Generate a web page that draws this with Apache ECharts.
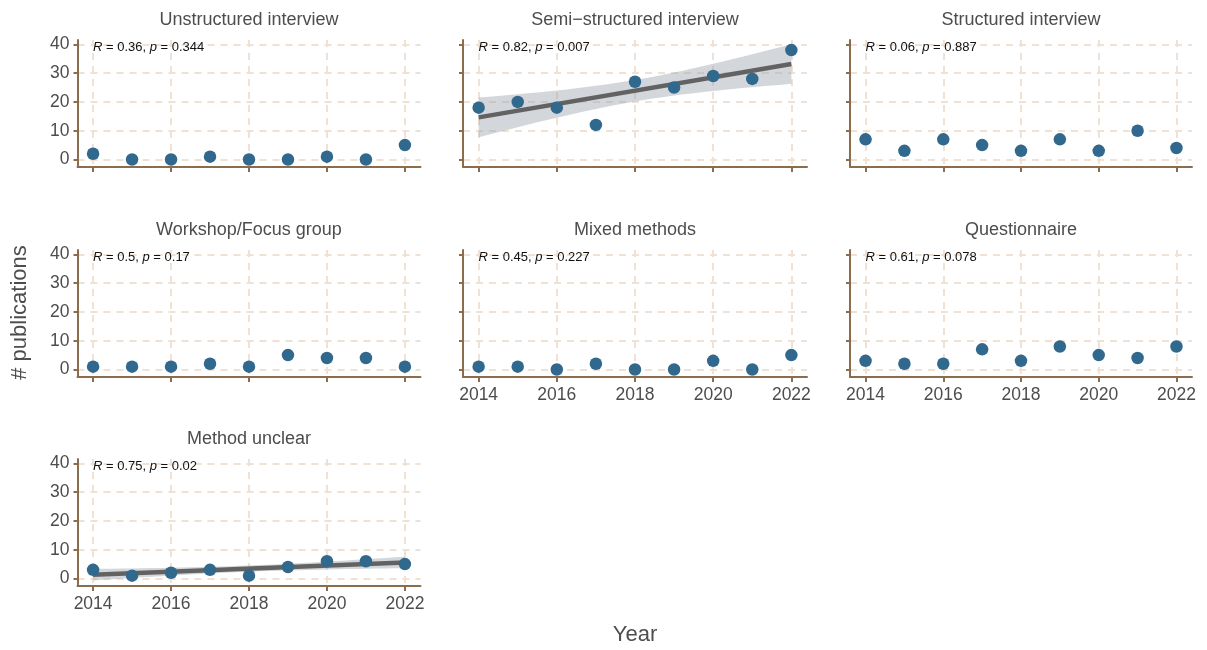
<!DOCTYPE html>
<html>
<head>
<meta charset="utf-8">
<script src="https://cdn.jsdelivr.net/npm/echarts@6/dist/echarts.min.js"></script>
<style>
html,body{margin:0;padding:0;background:#fff;}
#chart{width:1207px;height:650px;}
</style>
</head>
<body>
<div id="chart"></div>
<script>
// ---------- data ----------
const years = [2014, 2015, 2016, 2017, 2018, 2019, 2020, 2021, 2022];
const xTicks = [2014, 2016, 2018, 2020, 2022];
const yTicks = [0, 10, 20, 30, 40];
const panelTitles = [
  'Unstructured interview', 'Semi\u2212structured interview', 'Structured interview',
  'Workshop/Focus group', 'Mixed methods', 'Questionnaire', 'Method unclear'
];
const unstructured = [2, 0, 0, 1, 0, 0, 1, 0, 5];
const semiStructured = [18, 20, 18, 12, 27, 25, 29, 28, 38];
const structured = [7, 3, 7, 5, 3, 7, 3, 10, 4];
const workshop = [1, 1, 1, 2, 1, 5, 4, 4, 1];
const mixed = [1, 1, 0, 2, 0, 0, 3, 0, 5];
const questionnaire = [3, 2, 2, 7, 3, 8, 5, 4, 8];
const unclear = [3, 1, 2, 3, 1, 4, 6, 6, 5];
const corrR = ['0.36', '0.82', '0.06', '0.5', '0.45', '0.61', '0.75'];
const corrP = ['0.344', '0.007', '0.887', '0.17', '0.227', '0.078', '0.02'];
const showTrend = [false, true, false, false, false, false, true];
const tCrit = 2.365; // t(0.975, df = 7)

const seriesValues = [unstructured, semiStructured, structured, workshop, mixed, questionnaire, unclear];

// ---------- layout ----------
const colLeft = [77.5, 463, 850];
const colWidth = [343, 344, 342];
const rowTop = [40, 250, 459];
const panelH = 127;
const axisColor = '#8b6d4d';
const gridColor = '#efe2d4';
const textColor = '#4d4d4d';
const pointColor = '#31688e';
const font = '"Liberation Sans", Arial, Helvetica, sans-serif';

function linfit(xs, ys) {
  const n = xs.length;
  const mx = xs.reduce((a, b) => a + b, 0) / n;
  const my = ys.reduce((a, b) => a + b, 0) / n;
  let sxx = 0, sxy = 0;
  for (let i = 0; i < n; i++) { sxx += (xs[i] - mx) ** 2; sxy += (xs[i] - mx) * (ys[i] - my); }
  const b = sxy / sxx, a = my - b * mx;
  let ss = 0;
  for (let i = 0; i < n; i++) { ss += (ys[i] - (a + b * xs[i])) ** 2; }
  const s = Math.sqrt(ss / (n - 2));
  return { a, b, s, mx, sxx, n };
}

const grids = [], xAxes = [], yAxes = [], series = [], graphics = [];

panelTitles.forEach((title, i) => {
  const row = Math.floor(i / 3), col = i % 3;
  const left = colLeft[col], top = rowTop[row], w = colWidth[col];
  const showXLabels = (i === 4 || i === 5 || i === 6);
  const showYLabels = (col === 0);
  grids.push({ left: left, top: top, width: w, height: panelH });
  xAxes.push({
    type: 'value', gridIndex: i, min: 2013.6, max: 2022.4,
    axisLine: { show: true, onZero: false, lineStyle: { color: axisColor, width: 2 } },
    axisTick: { show: true, length: 5, customValues: xTicks, lineStyle: { color: axisColor, width: 2 } },
    axisLabel: { show: showXLabels, customValues: xTicks, formatter: v => String(v), color: textColor, fontSize: 17.5, fontFamily: font, margin: 9 },
    splitLine: { show: true, lineStyle: { type: [7, 6], color: gridColor, width: 2 } }
  });
  yAxes.push({
    type: 'value', gridIndex: i, min: -2.6, max: 41.5,
    axisLine: { show: true, onZero: false, lineStyle: { color: axisColor, width: 2 } },
    axisTick: { show: true, length: 4, customValues: yTicks, lineStyle: { color: axisColor, width: 2 } },
    axisLabel: { show: showYLabels, customValues: yTicks, formatter: v => String(v), color: textColor, fontSize: 17.5, fontFamily: font, margin: 8 },
    splitLine: { show: true, lineStyle: { type: [7, 6], color: gridColor, width: 2 } }
  });

  const vals = seriesValues[i];
  if (showTrend[i]) {
    const f = linfit(years, vals);
    const bandData = [];
    for (let k = 0; k <= 32; k++) {
      const x = 2014 + k * 0.25;
      const yhat = f.a + f.b * x;
      const se = f.s * Math.sqrt(1 / f.n + (x - f.mx) ** 2 / f.sxx);
      bandData.push([x, yhat - tCrit * se, yhat + tCrit * se]);
    }
    const fitLine = [[2014, f.a + f.b * 2014], [2022, f.a + f.b * 2022]];
    series.push({
      type: 'custom', xAxisIndex: i, yAxisIndex: i, silent: true, z: 1,
      data: [0],
      renderItem: function (params, api) {
        const upper = bandData.map(d => api.coord([d[0], d[2]]));
        const lower = bandData.slice().reverse().map(d => api.coord([d[0], d[1]]));
        return {
          type: 'polygon',
          shape: { points: upper.concat(lower) },
          style: { fill: 'rgba(150,160,170,0.42)' }
        };
      }
    });
    series.push({
      type: 'line', xAxisIndex: i, yAxisIndex: i, data: fitLine, symbol: 'none',
      lineStyle: { color: '#626262', width: 4.5 }, silent: true, z: 2
    });
  }
  series.push({
    type: 'scatter', xAxisIndex: i, yAxisIndex: i,
    data: years.map((y, k) => [y, vals[k]]),
    symbol: 'circle', symbolSize: 12.5, itemStyle: { color: pointColor, opacity: 1 }, z: 3
  });

  graphics.push({
    type: 'text', x: left + w / 2, y: top - 20,
    style: { text: title, fill: textColor, font: '18px ' + font, align: 'center', verticalAlign: 'middle' }
  });
  graphics.push({
    type: 'text', x: left + 15.5, y: top + 7, z: 10,
    style: {
      text: '{i|R} = ' + corrR[i] + ', {i|p} = ' + corrP[i],
      fill: '#111', font: '13px ' + font, align: 'left', verticalAlign: 'middle',
      rich: { i: { fontStyle: 'italic', fontSize: 13, fontFamily: font, fill: '#111' } }
    }
  });
});

graphics.push({
  type: 'text', x: 20, y: 312.5, rotation: Math.PI / 2,
  style: { text: '# publications', fill: textColor, font: '22px ' + font, align: 'center', verticalAlign: 'middle' }
});
graphics.push({
  type: 'text', x: 635, y: 635,
  style: { text: 'Year', fill: textColor, font: '22px ' + font, align: 'center', verticalAlign: 'middle' }
});

const chart = echarts.init(document.getElementById('chart'), null, { renderer: 'canvas' });
chart.setOption({
  animation: false,
  backgroundColor: '#ffffff',
  grid: grids,
  xAxis: xAxes,
  yAxis: yAxes,
  series: series,
  graphic: graphics
});
</script>
</body>
</html>
